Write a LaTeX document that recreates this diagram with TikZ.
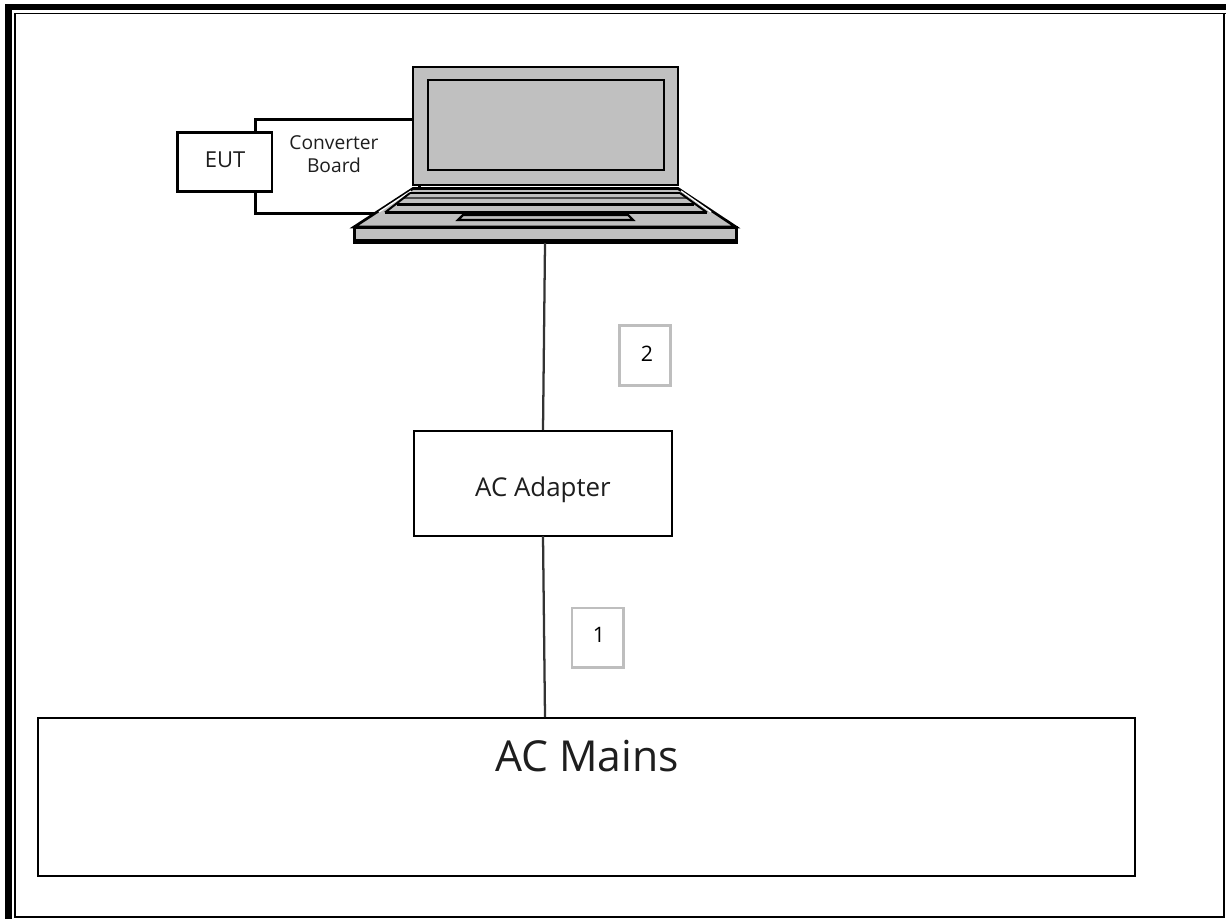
\documentclass[tikz,border=0pt]{standalone}
\usepackage{fontspec}
\setmainfont{Open Sans}
\definecolor{lapgray}{RGB}{192,192,192}
\definecolor{tagedge}{RGB}{190,190,190}
\definecolor{txt}{RGB}{30,30,30}
\tikzset{
  px/.style={x=0.75pt,y=-0.75pt},
  boxnode/.style={draw=black,fill=white,inner sep=0pt,anchor=north west},
  thinbox/.style={boxnode,line width=1.6pt},
  thickbox/.style={boxnode,line width=2.3pt},
  eutbox/.style={boxnode,line width=1.9pt},
  tagbox/.style={draw=tagedge,fill=white,line width=2.2pt,inner sep=0pt,anchor=north west,minimum width=38.5pt,minimum height=44.5pt},
  lap/.style={draw=black,fill=lapgray,line width=2pt,line join=miter},
  lapfine/.style={draw=black,fill=lapgray,line width=1.6pt,line join=miter},
  stripe/.style={draw=black,line width=1.5pt},
  stripethick/.style={draw=black,line width=2.6pt},
  wire/.style={draw=black!80,line width=1.7pt},
}
\begin{document}
\begin{tikzpicture}[px]
\useasboundingbox (0,0) rectangle (1226,919);
\fill[white] (0,0) rectangle (1226,919);
% page border
\fill[black] (5,4) rectangle (12,919);
\fill[black] (5,4) rectangle (1226,10);
\fill[black] (14,13) rectangle (15.5,918);
\fill[black] (14,13) rectangle (1226,14.5);
\fill[black] (1223,13) rectangle (1225,918);
\fill[black] (14,916) rectangle (1225,918);
% converter board and EUT
\node[thickbox,minimum width=123pt,minimum height=70.5pt] (board) at (254,117.7) {};
\node[font=\fontsize{14.4}{17}\selectfont,text=txt,align=center] (boardtext) at (334,154) {Converter\\Board};
\node[eutbox,minimum width=71pt,minimum height=44.5pt] (eut) at (176,131) {};
\node[font=\fontsize{16.5}{20}\selectfont,text=txt] (euttext) at (225,160) {EUT};
% laptop
\path[lap] (413,67) rectangle (678,185);
\path[lap] (428,80) rectangle (664,170);
\path[lap] (413,188.5) -- (678,188.5) -- (736,227) -- (354,227) -- cycle;
\path[stripe,draw=white,line width=1pt] (379,212) -- (411,191);
\path[stripe,draw=white,line width=1pt] (711,212) -- (681,191);
\draw[stripe] (410,193) -- (680,193);
\draw[stripe,draw=black!70] (404,198) -- (687,198);
\draw[stripethick] (397,204.5) -- (694,204.5);
\draw[stripe,line width=1.9pt] (385,212.5) -- (707,212.5);
\draw[stripe] (410,193) -- (385,212.5);
\draw[stripe] (680,193) -- (707,212.5);
\path[lapfine] (463,215) -- (628,215) -- (633,220) -- (458,220) -- cycle;
\node[lap,inner sep=0pt,anchor=north west,minimum width=286.5pt,minimum height=11.5pt] (laptop) at (353,226) {};
\draw[black,line width=2.6pt] (353,241) -- (737,241);
% adapter, mains
\node[thinbox,minimum width=193.5pt,minimum height=79pt] (adapter) at (412.5,430) {};
\node[font=\fontsize{19.4}{23}\selectfont,text=txt] (adaptertext) at (543,490) {AC Adapter};
\node[thinbox,minimum width=823pt,minimum height=118.5pt] (mains) at (36.5,717) {};
\node[font=\fontsize{32}{38}\selectfont,text=txt] (mainstext) at (587,756) {AC Mains};
% tags
\node[tagbox] (tagb) at (618,324.5) {};
\node[font=\fontsize{16}{19}\selectfont] (tagbt) at (647,354) {2};
\node[tagbox] (taga) at (570.5,606.5) {};
\node[font=\fontsize{16}{19}\selectfont] (tagat) at (599,635) {1};
% wires
\coordinate (w1) at (545,243);
\coordinate (w2) at (543,430);
\coordinate (w3) at (543,536);
\coordinate (w4) at (545,717);
\draw[wire] (w1) -- (w2);
\draw[wire] (w3) -- (w4);
\end{tikzpicture}
\end{document}
